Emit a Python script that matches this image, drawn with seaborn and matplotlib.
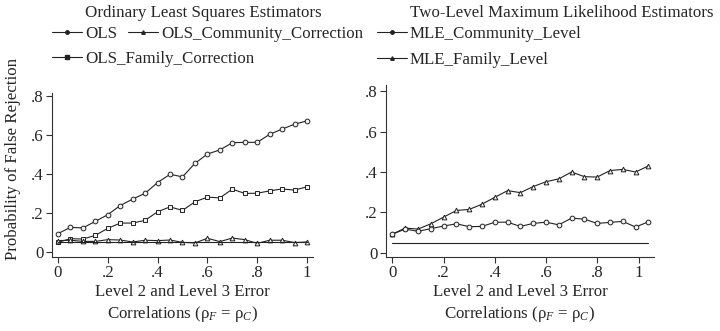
import numpy as np
import pandas as pd
import matplotlib
matplotlib.use("Agg")
import matplotlib.pyplot as plt
import seaborn as sns

# ---------------- data ----------------
rho = [0.00, 0.05, 0.10, 0.15, 0.20, 0.25, 0.30, 0.35, 0.40, 0.45, 0.50,
       0.55, 0.60, 0.65, 0.70, 0.75, 0.80, 0.85, 0.90, 0.95, 1.00]

ols = [0.094, 0.126, 0.123, 0.157, 0.191, 0.238, 0.271, 0.301, 0.356, 0.398, 0.385,
       0.454, 0.502, 0.523, 0.560, 0.562, 0.562, 0.603, 0.630, 0.655, 0.672]
ols_family = [0.049, 0.068, 0.066, 0.085, 0.121, 0.148, 0.148, 0.162, 0.206, 0.231, 0.213,
              0.257, 0.281, 0.277, 0.322, 0.300, 0.301, 0.313, 0.323, 0.317, 0.334]
ols_community = [0.058, 0.060, 0.054, 0.054, 0.063, 0.061, 0.051, 0.060, 0.058, 0.061, 0.049,
                 0.046, 0.070, 0.053, 0.071, 0.063, 0.044, 0.060, 0.060, 0.048, 0.051]

mle_family = [0.093, 0.123, 0.118, 0.144, 0.177, 0.210, 0.215, 0.241, 0.275, 0.308, 0.298,
              0.328, 0.352, 0.366, 0.400, 0.377, 0.375, 0.407, 0.413, 0.400, 0.430]
mle_community = [0.093, 0.118, 0.107, 0.120, 0.133, 0.144, 0.130, 0.131, 0.152, 0.152, 0.131,
                 0.146, 0.152, 0.139, 0.172, 0.167, 0.146, 0.151, 0.156, 0.128, 0.154]

nominal = [0.05] * len(rho)

yticks = [0, 0.2, 0.4, 0.6, 0.8]
ytick_labels = ["0", ".2", ".4", ".6", ".8"]
xticks_left = [0, 0.2, 0.4, 0.6, 0.8, 1.0]
xticks_right = [0, 0.2, 0.4, 0.6, 0.8, 0.962]
xtick_labels = ["0", ".2", ".4", ".6", ".8", "1"]

# ---------------- style ----------------
sns.set_style("ticks")
plt.rcParams["font.family"] = ["Liberation Serif", "DejaVu Serif"]
plt.rcParams["mathtext.fontset"] = "custom"
plt.rcParams["mathtext.rm"] = "Liberation Serif"
plt.rcParams["mathtext.it"] = "Liberation Serif:italic"
FS = 12.2

W, H = 720, 331
fig = plt.figure(figsize=(W / 100, H / 100), dpi=100)

def px_rect(x0, y0, x1, y1):
    return [x0 / W, 1 - y1 / H, (x1 - x0) / W, (y1 - y0) / H]

axL = fig.add_axes(px_rect(52, 93, 313, 257))
axR = fig.add_axes(px_rect(386, 85, 654, 257))

LC = "#222222"
LW = 0.8
MS = 3.4
MEW = 0.7

def draw(ax, y, marker):
    sns.lineplot(x=rho, y=y, ax=ax, color=LC, linewidth=LW, marker=marker,
                 markersize=MS, markerfacecolor="#f2f2f2", markeredgecolor=LC,
                 markeredgewidth=MEW, legend=False)

draw(axL, ols, "o")
draw(axL, ols_family, "s")
draw(axL, ols_community, "^")
sns.lineplot(x=rho, y=nominal, ax=axL, color=LC, linewidth=LW, legend=False)

draw(axR, mle_family, "^")
draw(axR, mle_community, "o")
sns.lineplot(x=rho, y=nominal, ax=axR, color=LC, linewidth=LW, legend=False)

xlabel = "Level 2 and Level 3 Error\nCorrelations (ρ$_{F}$ = ρ$_{C}$)"

for ax, xt, xl, yl in [(axL, xticks_left, (-0.024, 1.024), (-0.026, 0.815)),
                       (axR, xticks_right, (-0.025, 1.022), (-0.02, 0.83))]:
    ax.set_xlim(*xl)
    ax.set_ylim(*yl)
    ax.set_xticks(xt)
    ax.set_xticklabels(xtick_labels, fontsize=FS)
    ax.set_yticks(yticks)
    ax.set_yticklabels(ytick_labels, fontsize=FS)
    ax.tick_params(axis="both", direction="out", length=4, width=0.8,
                   color="#333333", pad=2)
    for s in ["top", "right"]:
        ax.spines[s].set_visible(False)
    for s in ["left", "bottom"]:
        ax.spines[s].set_linewidth(0.8)
        ax.spines[s].set_color("#333333")
    ax.set_xlabel(xlabel, fontsize=FS, linespacing=1.3, labelpad=2)
    ax.set_facecolor("white")

axL.set_ylabel("Probability of False Rejection", fontsize=FS)
axL.yaxis.set_label_coords(-0.118, 0.60)
axR.set_ylabel("")

# ---------------- titles & legends ----------------
fig.text(85 / W, 1 - 13 / H, "Ordinary Least Squares Estimators",
         fontsize=FS, ha="left", va="center")
fig.text(410 / W, 1 - 13 / H, "Two-Level Maximum Likelihood Estimators",
         fontsize=FS, ha="left", va="center")

def handle(marker):
    return plt.Line2D([], [], color=LC, linewidth=LW, marker=marker,
                      markersize=2.5, markerfacecolor=LC, markeredgecolor=LC)

def row_legend(entries, x_px, y_px, fs=FS, hl_px=30, pad_px=3, colspace_px=11):
    fpx = fs / 0.72
    leg = fig.legend([handle(m) for m, _ in entries], [t for _, t in entries],
                     loc="center left", bbox_to_anchor=(x_px / W, 1 - y_px / H),
                     frameon=False, fontsize=fs, ncol=len(entries),
                     handlelength=hl_px / fpx, handletextpad=pad_px / fpx,
                     columnspacing=colspace_px / fpx,
                     borderpad=0, borderaxespad=0)
    return leg

row_legend([("o", "OLS"), ("^", "OLS_Community_Correction")], 52, 34)
row_legend([("s", "OLS_Family_Correction")], 52, 59)
row_legend([("o", "MLE_Community_Level")], 377, 34)
row_legend([("^", "MLE_Family_Level")], 377, 60)

fig.savefig("out.png", dpi=100, facecolor="white")
